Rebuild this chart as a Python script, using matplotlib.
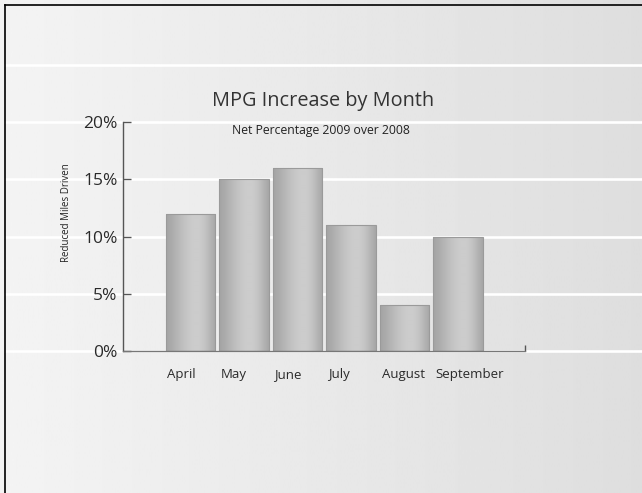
import matplotlib
matplotlib.use('Agg')
import matplotlib.pyplot as plt
import matplotlib.transforms as mtransforms
from matplotlib.lines import Line2D
import numpy as np

months = ['April', 'May', 'June', 'July', 'August', 'September']
mpg_increase = [12, 15, 16, 11, 4, 10]
y_ticks = [0, 5, 10, 15, 20]
grid_levels = [0, 5, 10, 15, 20, 25]

plt.rcParams['font.family'] = ['Open Sans', 'DejaVu Sans']

fig = plt.figure(figsize=(6.42, 4.93), dpi=100)

# background gradient, light on the left, darker grey on the right
bg = fig.add_axes([0, 0, 1, 1], zorder=-1)
grad = np.linspace(0.955, 0.87, 256).reshape(1, -1)
bg.imshow(grad, cmap='gray', vmin=0, vmax=1, aspect='auto', extent=[0, 1, 0, 1])
bg.set_xlim(0, 1)
bg.set_ylim(0, 1)
bg.axis('off')

ax = fig.add_axes([0.1916, 0.288, 0.6262, 0.4645])
ax.set_facecolor('none')

x = np.arange(len(months))
bars = ax.bar(x, mpg_increase, width=0.92, color='none', edgecolor='#9a9a9a',
              linewidth=0.8, zorder=4)

# shaded fill for every bar: darker sides, light band right of the middle
shade = np.array([0.64, 0.67, 0.71, 0.75, 0.78, 0.80, 0.80, 0.77, 0.71, 0.65])
shade = np.interp(np.linspace(0, 9, 200), np.arange(10), shade).reshape(1, -1)
for b in bars:
    x0, y0, w, h = b.get_x(), b.get_y(), b.get_width(), b.get_height()
    im = ax.imshow(shade, cmap='gray', vmin=0, vmax=1, aspect='auto',
                   extent=[x0, x0 + w, y0, y0 + h], zorder=3, interpolation='bilinear')
    im.set_clip_path(b)

ax.set_xlim(-1.26, 6.25)
ax.set_ylim(0, 20)

# white lines running across the whole picture
trans = mtransforms.blended_transform_factory(fig.transFigure, ax.transData)
for lvl in grid_levels:
    ax.plot([0.008, 1.0], [lvl, lvl], color='white', lw=1.9, transform=trans,
            clip_on=False, zorder=1)

for s in ['top', 'right']:
    ax.spines[s].set_visible(False)
ax.spines['left'].set_color('#555555')
ax.spines['left'].set_linewidth(1.0)
ax.spines['bottom'].set_color('#777777')
ax.spines['bottom'].set_linewidth(1.0)
ax.spines['left'].set_zorder(5)
ax.spines['bottom'].set_zorder(5)

ax.set_yticks(y_ticks)
ax.set_yticklabels([f'{v}%' for v in y_ticks])
ax.tick_params(axis='y', direction='in', length=6, width=1, color='#555555',
               labelsize=12.5, labelcolor='#2a2a2a', pad=4)

# month labels start near the left edge of their bar
ax.set_xticks(x - 0.43)
ax.set_xticklabels(months, ha='left')
ax.tick_params(axis='x', length=0, labelsize=9.5, labelcolor='#2a2a2a', pad=12)
ax.set_xticks([6.25], minor=True)
ax.tick_params(axis='x', which='minor', direction='in', length=4, width=1, color='#555555')

fig.text(0.503, 0.795, 'MPG Increase by Month', ha='center', va='center',
         fontsize=14.3, color='#333333')
fig.text(0.5, 0.735, 'Net Percentage 2009 over 2008', ha='center', va='center',
         fontsize=8.8, color='#222222')
fig.text(0.104, 0.568, 'Reduced Miles Driven', rotation=90, ha='center', va='center',
         fontsize=7, color='#222222')

# black frame on the left and top edges
fig.add_artist(Line2D([0.0078, 0.0078], [0, 0.99], color='black', lw=1.2))
fig.add_artist(Line2D([0.0078, 1.0], [0.99, 0.99], color='black', lw=1.2))

fig.savefig('out.png', dpi=100)
